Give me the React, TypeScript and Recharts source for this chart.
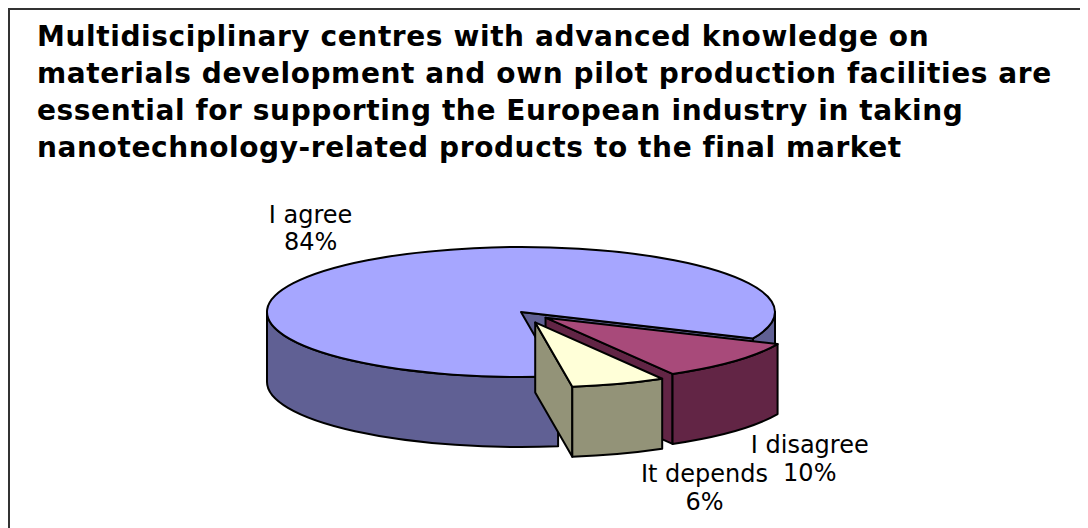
import { PieChart, Pie } from 'recharts';

const titleLines = [
  'Multidisciplinary centres with advanced knowledge on',
  'materials development and own pilot production facilities are',
  'essential for supporting the European industry in taking',
  'nanotechnology-related products to the final market',
];

const categories = ['I agree', 'I disagree', 'It depends'];
const shares = [84, 10, 6];

const topColors = ['#A6A6FF', '#A84A7A', '#FFFFD8'];
const sideColors = ['#606094', '#622545', '#939378'];
const explode = [0, 0.13, 0.17];

const data = categories.map((name, i) => ({ name, value: shares[i], i }));

const FONT = 'Verdana, "DejaVu Sans", sans-serif';
const TILT = 65 / 254; // ellipse ry / rx
const DEPTH = 70 / 254; // side height / rx
const rad = (a: number) => (a * Math.PI) / 180;

// draws one slice as a tilted 3d wedge, using the angles recharts computed
const Slice3D = (props: any) => {
  const { cx, cy, outerRadius: rx, startAngle, endAngle } = props;
  const idx = props.payload?.i ?? props.i ?? categories.indexOf(props.name);
  const a0 = Math.min(startAngle, endAngle);
  const a1 = Math.max(startAngle, endAngle);
  const mid = props.midAngle ?? (a0 + a1) / 2;
  const ry = rx * TILT;
  const d = rx * DEPTH;
  const ox = cx + explode[idx] * rx * Math.cos(rad(mid));
  const oy = cy - explode[idx] * ry * Math.sin(rad(mid));
  const P = (a: number, dz = 0) =>
    `${ox + rx * Math.cos(rad(a))} ${oy - ry * Math.sin(rad(a)) + dz}`;

  const faces: string[] = [];
  if (Math.cos(rad(a0)) > 0)
    faces.push(`M ${ox} ${oy} L ${P(a0)} L ${P(a0, d)} L ${ox} ${oy + d} Z`);
  if (Math.cos(rad(a1)) < 0)
    faces.push(`M ${ox} ${oy} L ${P(a1)} L ${P(a1, d)} L ${ox} ${oy + d} Z`);

  const walls: string[] = [];
  for (let k = -2; k <= 2; k++) {
    const lo = Math.max(a0, 180 + 360 * k);
    const hi = Math.min(a1, 360 + 360 * k);
    if (hi > lo)
      walls.push(
        `M ${P(lo)} A ${rx} ${ry} 0 0 0 ${P(hi)} L ${P(hi, d)} A ${rx} ${ry} 0 0 1 ${P(lo, d)} Z`
      );
  }

  const large = a1 - a0 > 180 ? 1 : 0;
  const top = `M ${ox} ${oy} L ${P(a0)} A ${rx} ${ry} 0 ${large} 0 ${P(a1)} Z`;
  const line = { stroke: '#000', strokeWidth: 2, strokeLinejoin: 'round' as const };

  return (
    <g>
      {faces.map((p, j) => (
        <path key={'f' + j} d={p} fill={sideColors[idx]} {...line} />
      ))}
      {walls.map((p, j) => (
        <path key={'w' + j} d={p} fill={sideColors[idx]} {...line} />
      ))}
      <path d={top} fill={topColors[idx]} {...line} />
    </g>
  );
};

const renderLabel = (props: any) => {
  const { cx, cy, midAngle, outerRadius: rx, name, value } = props;
  const ry = rx * TILT;
  const s = Math.sin(rad(midAngle));
  const c = Math.cos(rad(midAngle));
  const fs = 24;
  if (s >= 0) {
    const x = cx + 1.37 * rx * c;
    const y = cy - 1.2 * ry * s;
    return (
      <text x={x} y={y} textAnchor="middle" fontFamily={FONT} fontSize={fs} fill="#000">
        <tspan x={x} dy={-27}>{name}</tspan>
        <tspan x={x} dy={27}>{value}%</tspan>
      </text>
    );
  }
  // lower labels sit below the side wall, to the right of the slice
  const x = cx + rx * c + 100;
  const y = cy + rx * DEPTH - 1.63 * ry * s;
  return (
    <text x={x} y={y} textAnchor="middle" fontFamily={FONT} fontSize={fs} fill="#000">
      <tspan x={x} dy={0}>{name}</tspan>
      <tspan x={x} dy={28}>{value}%</tspan>
    </text>
  );
};

export default function App() {
  return (
    <div
      style={{
        position: 'relative',
        width: 1079,
        height: 519,
        borderLeft: '2px solid #333',
        borderTop: '2px solid #333',
        background: '#fff',
      }}
    >
      <div
        style={{
          position: 'absolute',
          left: 27,
          top: 8,
          fontFamily: FONT,
          fontWeight: 'bold',
          fontSize: 28,
          letterSpacing: 0.6,
          lineHeight: '37px',
          color: '#000',
          whiteSpace: 'nowrap',
        }}
      >
        {titleLines.map((t) => (
          <div key={t}>{t}</div>
        ))}
      </div>
      <div style={{ position: 'absolute', left: 0, top: 0 }}>
        <PieChart width={1079} height={519}>
          <Pie
            data={data}
            dataKey="value"
            nameKey="name"
            cx={506}
            cy={297}
            outerRadius={254}
            startAngle={278.4}
            endAngle={-81.6}
            stroke="none"
            shape={Slice3D}
            label={renderLabel}
            labelLine={false}
            isAnimationActive={false}
          />
        </PieChart>
      </div>
    </div>
  );
}
